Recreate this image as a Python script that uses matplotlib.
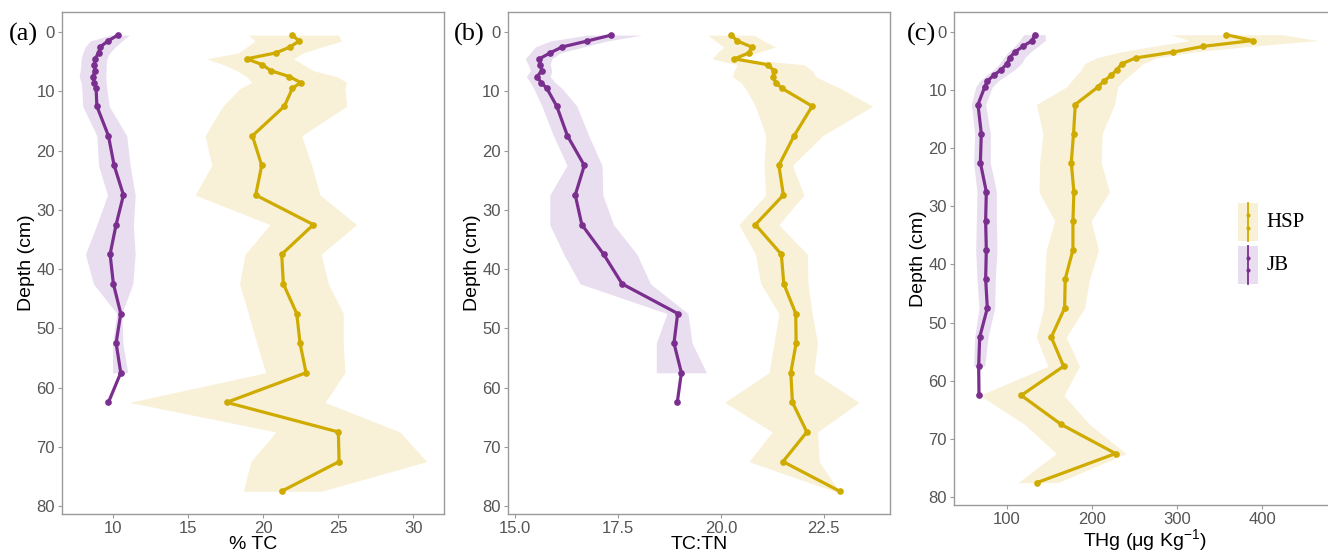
import numpy as np
import matplotlib
matplotlib.use('Agg')
import matplotlib.pyplot as plt
from matplotlib.patches import Rectangle
from matplotlib.lines import Line2D

plt.rcParams['font.family'] = ['Liberation Sans', 'DejaVu Sans']
plt.rcParams['mathtext.fontset'] = 'custom'
plt.rcParams['mathtext.rm'] = 'Liberation Sans'

# sample depths (cm)
depth_hsp = [0.5, 1.5, 2.5, 3.5, 4.5, 5.5, 6.5, 7.5, 8.5, 9.5, 12.5, 17.5,
             22.5, 27.5, 32.5, 37.5, 42.5, 47.5, 52.5, 57.5, 62.5, 67.5,
             72.5, 77.5]
depth_jb = depth_hsp[:21]
depth_jb_band = depth_hsp[:20]

# % TC
tc_jb = [10.33, 9.67, 9.16, 9.05, 8.82, 8.76, 8.82, 8.67, 8.78, 8.89, 8.94,
         9.71, 10.09, 10.71, 10.22, 9.82, 10.04, 10.53, 10.22, 10.53, 9.71]
tc_jb_lo = [9.85, 8.5, 8.16, 8.0, 7.9, 7.87, 7.83, 7.76, 7.9, 7.94, 8.0,
            8.94, 9.05, 9.65, 8.94, 8.18, 8.71, 10.27, 9.98, 9.98]
tc_jb_hi = [11.1, 10.6, 10.16, 9.8, 9.6, 9.56, 9.56, 9.53, 9.56, 9.6, 9.76,
            10.93, 11.15, 11.49, 11.37, 11.49, 11.33, 10.6, 10.67, 11.0]
tc_hsp = [21.95, 22.39, 21.8, 20.86, 18.91, 19.96, 20.51, 21.75, 22.5, 21.95,
          21.42, 19.29, 19.91, 19.51, 23.35, 21.24, 21.35, 22.24, 22.46, 22.86,
          17.58, 25.01, 25.06, 21.24]
tc_hsp_lo = [19.02, 19.47, 18.91, 18.36, 16.25, 17.36, 18.25, 18.91, 19.25,
             18.47, 17.32, 16.14, 16.59, 15.48, 20.47, 18.8, 18.43, 19.02,
             19.58, 20.18, 11.11, 20.86, 19.18, 18.69]
tc_hsp_hi = [25.01, 25.23, 23.9, 22.68, 22.02, 22.68, 23.35, 24.9, 25.57,
             25.45, 25.57, 22.57, 23.24, 23.79, 26.23, 23.86, 24.35, 25.34,
             25.34, 25.45, 24.12, 29.11, 30.89, 23.9]

# TC:TN
cn_jb = [17.33, 16.75, 16.14, 15.85, 15.59, 15.61, 15.65, 15.53, 15.63, 15.77,
         16.01, 16.27, 16.68, 16.46, 16.62, 17.15, 17.6, 18.95, 18.86, 19.04,
         18.94]
cn_jb_lo = [16.75, 15.85, 15.49, 15.37, 15.24, 15.32, 15.37, 15.27, 15.37,
            15.45, 15.65, 15.93, 16.26, 15.84, 15.84, 16.18, 16.58, 18.69,
            18.43, 18.43]
cn_jb_hi = [18.08, 17.23, 16.66, 16.1, 15.89, 15.85, 15.89, 15.85, 15.97,
            16.14, 16.5, 16.79, 17.11, 17.13, 17.39, 17.96, 18.29, 19.2, 19.3,
            19.65]
cn_hsp = [20.25, 20.4, 20.75, 20.68, 20.33, 21.14, 21.29, 21.27, 21.33, 21.49,
          22.22, 21.78, 21.41, 21.52, 20.84, 21.47, 21.53, 21.82, 21.83, 21.7,
          21.74, 22.09, 21.51, 22.89]
cn_hsp_lo = [19.68, 19.87, 20.07, 19.91, 19.79, 20.4, 20.32, 20.28, 20.48,
             20.6, 20.84, 21.09, 21.05, 21.09, 20.44, 20.84, 20.97, 21.41,
             21.29, 21.17, 20.09, 21.25, 20.68, 22.75]
cn_hsp_hi = [20.8, 21.05, 21.33, 20.88, 20.48, 22.02, 22.22, 22.31, 22.59,
             22.91, 23.69, 22.47, 21.74, 22.02, 21.41, 22.1, 22.12, 22.22,
             22.35, 22.26, 23.36, 22.35, 22.39, 22.87]

# THg (ug/kg)
hg_jb = [132.5, 129.8, 118.8, 109.0, 103.1, 100.0, 93.3, 84.3, 76.5, 73.8,
         65.9, 69.8, 68.7, 75.7, 74.9, 75.7, 74.9, 76.9, 67.9, 66.7, 67.1]
hg_jb_lo = [119.6, 114.9, 109.0, 101.2, 96.1, 91.4, 84.3, 75.7, 67.9, 63.2,
            58.1, 62.0, 60.8, 64.7, 64.0, 63.2, 64.7, 67.1, 62.0, 60.8]
hg_jb_hi = [145.0, 145.0, 136.4, 127.4, 120.8, 116.8, 109.0, 99.2, 89.4, 82.8,
            74.9, 80.4, 80.4, 87.5, 87.5, 88.2, 86.3, 85.5, 77.7, 73.8]
hg_hsp = [357.7, 389.1, 331.1, 295.1, 251.2, 235.1, 229.3, 222.6, 213.6,
          206.9, 180.3, 178.3, 175.6, 178.7, 177.6, 177.6, 168.5, 167.8,
          152.1, 166.6, 116.8, 163.8, 227.7, 135.3]
hg_hsp_lo = [293.1, 314.7, 271.6, 232.4, 205.0, 191.3, 187.3, 181.5, 175.6,
             169.7, 134.5, 142.3, 138.4, 137.6, 156.0, 146.2, 144.3, 143.1,
             134.5, 148.2, 67.9, 120.8, 158.0, 112.9]
hg_hsp_hi = [424.3, 465.5, 385.2, 318.6, 275.5, 259.8, 252.0, 244.1, 236.3,
             230.4, 226.5, 212.0, 210.8, 220.6, 199.1, 207.7, 197.1, 191.3,
             169.7, 185.4, 167.0, 197.1, 240.2, 159.9]

c_jb = '#7a2f8e'
c_jb_band = '#e9def0'
c_hsp = '#cfab00'
c_hsp_band = '#f8f1d8'


def profile(ax, hsp, hsp_lo, hsp_hi, jb, jb_lo, jb_hi, xlabel, xticks, tag):
    """ Draw one depth profile with ribbons. """
    ax.fill_betweenx(depth_hsp, hsp_lo, hsp_hi, color=c_hsp_band, lw=0)
    ax.fill_betweenx(depth_jb_band, jb_lo, jb_hi, color=c_jb_band, lw=0)
    ax.plot(hsp, depth_hsp, '-o', color=c_hsp, lw=2.3, ms=3.8)
    ax.plot(jb, depth_jb, '-o', color=c_jb, lw=2.3, ms=3.8)
    ax.set_ylim(81.35, -3.35)
    lo = min(min(hsp_lo), min(jb_lo))
    hi = max(max(hsp_hi), max(jb_hi))
    pad = 0.05*(hi - lo)
    ax.set_xlim(lo - pad, hi + pad)
    ax.set_xticks(xticks)
    ax.set_yticks([0, 10, 20, 30, 40, 50, 60, 70, 80])
    for s in ax.spines.values():
        s.set_color('#9a9a9a')
        s.set_linewidth(1.0)
    ax.tick_params(colors='#9a9a9a', labelcolor='#555555', labelsize=12,
                   length=3, width=0.8, pad=2)
    ax.set_xlabel(xlabel, fontsize=14, labelpad=0)
    ax.set_ylabel('Depth (cm)', fontsize=14, labelpad=1)
    ax.text(-0.1, 0.955, tag, transform=ax.transAxes, fontsize=19,
            family='Liberation Serif', ha='center', va='center')


fig = plt.figure(figsize=(13.28, 5.52), dpi=100)
ax1 = fig.add_axes([0.0465, 0.0688, 0.2879, 0.9089])
ax2 = fig.add_axes([0.3823, 0.0688, 0.2879, 0.9089])
ax3 = fig.add_axes([0.7184, 0.0851, 0.2869, 0.8926])

profile(ax1, tc_hsp, tc_hsp_lo, tc_hsp_hi, tc_jb, tc_jb_lo, tc_jb_hi,
        '% TC', [10, 15, 20, 25, 30], '(a)')
profile(ax2, cn_hsp, cn_hsp_lo, cn_hsp_hi, cn_jb, cn_jb_lo, cn_jb_hi,
        'TC:TN', [15.0, 17.5, 20.0, 22.5], '(b)')
ax2.set_xticklabels(['15.0', '17.5', '20.0', '22.5'])
profile(ax3, hg_hsp, hg_hsp_lo, hg_hsp_hi, hg_jb, hg_jb_lo, hg_jb_hi,
        'THg (μg Kg$^{-1}$)', [100, 200, 300, 400], '(c)')
ax3.texts[-1].set_x(-0.085)

# legend inside panel (c)
keys = [('HSP', c_hsp, c_hsp_band, 0.613), ('JB', c_jb, c_jb_band, 0.526)]
for name, lc, bc, top in keys:
    ax3.add_patch(Rectangle((0.745, top - 0.077), 0.053, 0.077,
                            transform=ax3.transAxes, color=bc, lw=0))
    ax3.add_line(Line2D([0.7715, 0.7715], [top - 0.077, top],
                        transform=ax3.transAxes, color=lc, lw=1.3))
    ax3.add_line(Line2D([0.7715, 0.7715], [top - 0.024, top - 0.05],
                        transform=ax3.transAxes, color=lc, lw=0,
                        marker='o', ms=2))
    ax3.text(0.82, top - 0.04, name, transform=ax3.transAxes, fontsize=15,
             family='Liberation Serif', va='center')

fig.savefig('out.png', dpi=100)
